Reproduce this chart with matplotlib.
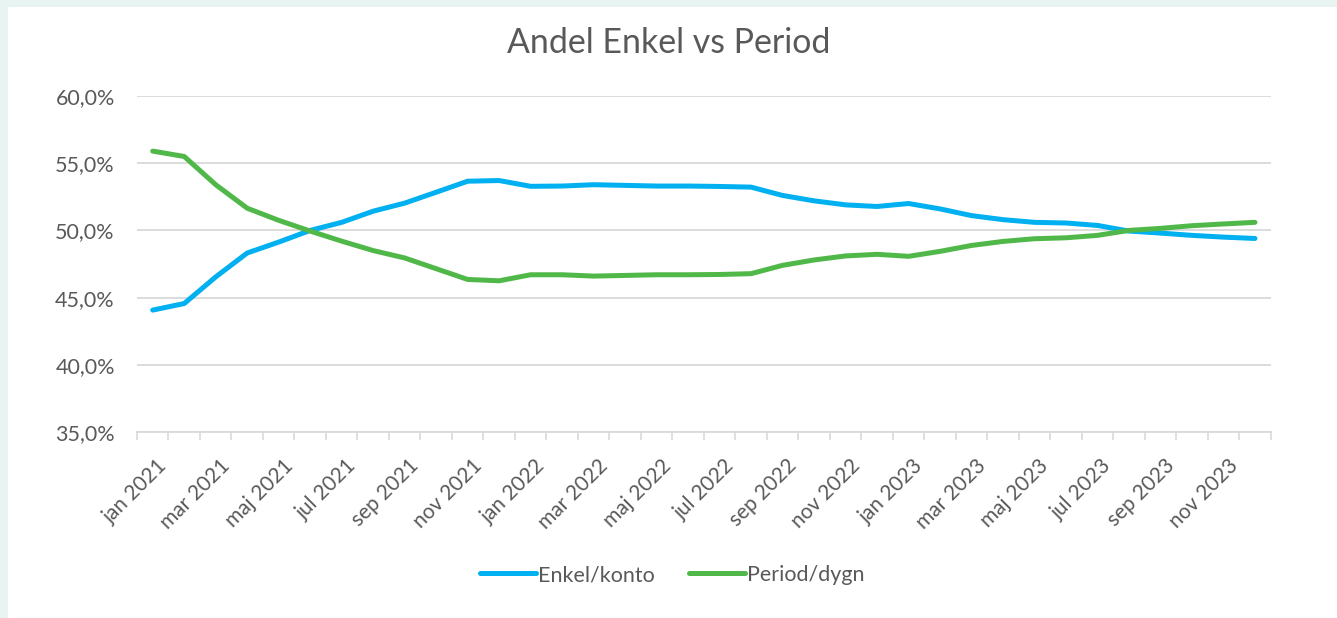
"""Andel Enkel vs Period line chart."""

import matplotlib
matplotlib.use("Agg")
import matplotlib.pyplot as plt
import matplotlib.transforms as mtransforms
from matplotlib.patches import Rectangle
from matplotlib.ticker import FuncFormatter

months = ["jan", "feb", "mar", "apr", "maj", "jun", "jul", "aug", "sep", "okt", "nov", "dec"]
years = [2021, 2022, 2023]
periods = [f"{m} {y}" for y in years for m in months]

enkel_konto = [
    44.07, 44.56, 46.54, 48.32, 49.13, 50.0, 50.6, 51.43, 52.03, 52.84, 53.66, 53.71,
    53.28, 53.3, 53.4, 53.35, 53.3, 53.3, 53.27, 53.22, 52.6, 52.2, 51.9, 51.78,
    52.0, 51.6, 51.1, 50.8, 50.6, 50.55, 50.37, 49.95, 49.8, 49.63, 49.5, 49.4,
]
period_dygn = [
    55.9, 55.5, 53.4, 51.65, 50.75, 49.95, 49.2, 48.5, 47.95, 47.15, 46.35, 46.25,
    46.7, 46.7, 46.6, 46.65, 46.7, 46.7, 46.72, 46.78, 47.4, 47.8, 48.1, 48.22,
    48.07, 48.44, 48.88, 49.18, 49.38, 49.45, 49.63, 50.0, 50.15, 50.35, 50.48, 50.6,
]

BLUE = "#00b0f0"
GREEN = "#50b848"
TEXT = "#595959"
GRID = "#d9d9d9"

plt.rcParams["font.family"] = ["Lato", "DejaVu Sans"]

fig = plt.figure(figsize=(13.37, 6.18), dpi=100, facecolor="#e8f4f1")
# white card over the mint page background
fig.patches.append(Rectangle((8 / 1337, 0), 1, 1 - 7 / 618, transform=fig.transFigure,
                             facecolor="white", edgecolor="none", zorder=-10))

ax = fig.add_axes([137 / 1337, 1 - 432 / 618, (1270.7 - 137) / 1337, (432 - 96) / 618])
ax.set_facecolor("white")

x = list(range(len(periods)))
ax.plot(x, enkel_konto, color=BLUE, lw=3.6, solid_capstyle="round", solid_joinstyle="round",
        label="Enkel/konto", zorder=3)
ax.plot(x, period_dygn, color=GREEN, lw=3.6, solid_capstyle="round", solid_joinstyle="round",
        label="Period/dygn", zorder=3)

ax.set_ylim(35, 60)
ax.set_yticks([35, 40, 45, 50, 55, 60])
ax.yaxis.set_major_formatter(FuncFormatter(lambda v, _: f"{v:.1f}%".replace(".", ",")))
ax.set_xlim(-0.5, len(periods) - 0.5)

# labels every other month, tick marks at every category boundary
ax.set_xticks(x[::2])
ax.set_xticklabels(periods[::2], rotation=45, ha="right", rotation_mode="anchor")
ax.set_xticks([i - 0.5 for i in range(len(periods) + 1)], minor=True)
ax.tick_params(axis="x", which="major", length=0, pad=17, labelsize=15, labelcolor=TEXT)
ax.tick_params(axis="x", which="minor", length=6, width=1.2, color=GRID)
ax.tick_params(axis="y", length=0, pad=16, labelsize=15.5, labelcolor=TEXT)

# nudge rotated labels a little to the right, like the original
shift = mtransforms.ScaledTranslation(4 / 100, 0, fig.dpi_scale_trans)
for lbl in ax.get_xticklabels():
    lbl.set_transform(lbl.get_transform() + shift)

ax.grid(axis="y", color=GRID, lw=1.3)
ax.set_axisbelow(True)
for side in ["top", "right", "left"]:
    ax.spines[side].set_visible(False)
ax.spines["bottom"].set_color(GRID)
ax.spines["bottom"].set_linewidth(1.3)

fig.text(0.5, 1 - 52.7 / 618, "Andel Enkel vs Period", ha="center", va="baseline",
         fontsize=24.4, color=TEXT)

fig.legend(loc="center", bbox_to_anchor=(0.503, 1 - 575 / 618), ncol=2, frameon=False,
           fontsize=15.5, labelcolor=TEXT, handlelength=2.6, handletextpad=0.1,
           columnspacing=1.6)

fig.savefig("out.png", dpi=100, facecolor=fig.get_facecolor())
